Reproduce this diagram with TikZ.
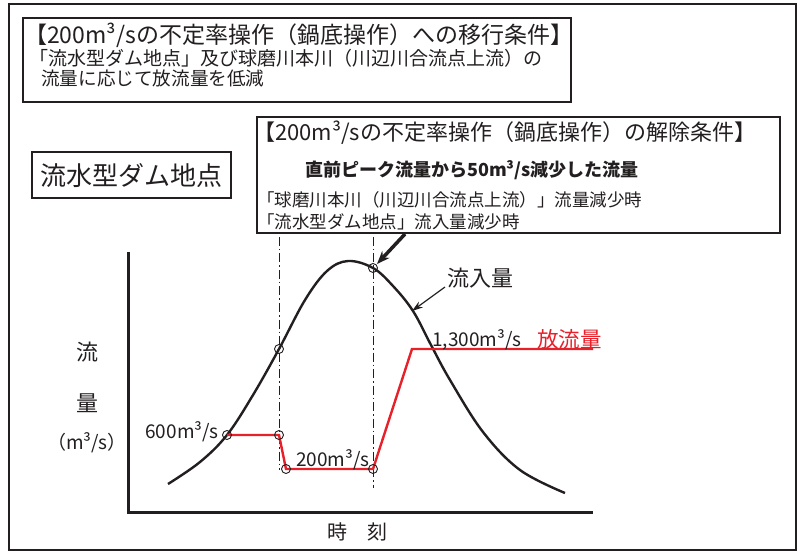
\documentclass[tikz,border=0pt]{standalone}
\usepackage{fontspec}
\setmainfont{Noto Sans CJK JP}
\usetikzlibrary{arrows.meta}
\definecolor{ink}{RGB}{35,31,32}
\definecolor{rd}{RGB}{232,32,42}
\newcommand{\fsz}[1]{\fontsize{#1}{#1}\selectfont}
\tikzset{
  frame/.style={draw=ink, line width=2.5pt},
  box/.style={draw=ink, line width=2pt},
  txt/.style={inner sep=0pt, text=ink, anchor=west},
  ctxt/.style={inner sep=0pt, text=ink, anchor=center},
  axis/.style={draw=ink, line width=3pt},
  flow/.style={draw=ink, line width=2.4pt},
  rel/.style={draw=rd, line width=2.4pt, line join=miter},
  guide/.style={draw=ink, line width=1pt, dash pattern=on 9pt off 3pt on 1.5pt off 3pt},
  mk/.style={circle, draw=ink, line width=0.9pt, minimum size=9pt, inner sep=0pt},
}
\begin{document}
\begin{tikzpicture}[x=1pt,y=-1pt]
\useasboundingbox (0,0) rectangle (803,553);
\fill[white] (0,0) rectangle (803,553);
\draw[frame] (9,4) rectangle (796,550);

% top box
\draw[box] (23,18) rectangle (571,102);
\node[txt, font=\fsz{23}] (t1) at (24,35) {【200m³/sの不定率操作（鍋底操作）への移行条件】};
\node[txt, font=\fsz{19}] (t1a) at (29,58) {「流水型ダム地点」及び球磨川本川（川辺川合流点上流）の};
\node[txt, font=\fsz{18.6}] (t1b) at (41,78) {流量に応じて放流量を低減};

% location box
\draw[box] (32,152) rectangle (231,198);
\node[ctxt, font=\fsz{26}] (loc) at (131.5,176) {流水型ダム地点};

% release box
\draw[box] (257,117) rectangle (780,233);
\node[txt, font=\fsz{22}] (t2) at (253,133) {【200m³/sの不定率操作（鍋底操作）の解除条件】};
\node[txt, font=\fsz{18}\bfseries] (t2a) at (305,170) {直前ピーク流量から50m³/s減少した流量};
\node[txt, font=\fsz{17.5}] (t2b) at (257,200) {「球磨川本川（川辺川合流点上流）」流量減少時};
\node[txt, font=\fsz{17.5}] (t2c) at (257,222) {「流水型ダム地点」流入量減少時};

% axes
\coordinate (ytop) at (128,252);
\coordinate (orig) at (128,512);
\coordinate (xend) at (593,512);
\draw[axis] (ytop) -- (orig) -- (xend);
\node[ctxt, font=\fsz{22}] (yl1) at (87,352) {流};
\node[ctxt, font=\fsz{22}] (yl2) at (87,403) {量};
\node[ctxt, font=\fsz{19}] (yl3) at (87,443) {（m³/s）};
\node[ctxt, font=\fsz{20}] (xl) at (357,532) {時　刻};

% guides
\coordinate (g1t) at (279,237);
\coordinate (g1b) at (279,470);
\coordinate (g2t) at (373,237);
\coordinate (g2b) at (373,488);
\draw[guide] (g1t) -- (g1b);
\draw[guide] (g2t) -- (g2b);

% inflow curve
\draw[flow] plot[smooth, tension=0.6] coordinates {(168,484) (200,462) (227,435) (253,395) (279,349) (305,300) (327,271) (348,261) (373,268) (393,286) (413,311) (431,345) (450,380) (483,432) (520,470) (565,493)};

% release
\coordinate (p1) at (227,435);
\coordinate (p2) at (279,435);
\coordinate (p3) at (286,469);
\coordinate (p4) at (373,469);
\coordinate (p5) at (412,349);
\coordinate (p6) at (593,349);
\coordinate (q1) at (279,349);
\coordinate (q2) at (373,268);
\draw[rel] (p1) -- (p2) -- (p3) -- (p4) -- (p5) -- (p6);
\foreach \c in {p1,p2,p3,p4,q1,q2} \node[mk] (m\c) at (\c) {};

% labels
\node[inner sep=0pt, text=ink, anchor=east, font=\fsz{19}] (l600) at (219,432) {600m³/s};
\node[txt, font=\fsz{19}] (l200) at (296,460) {200m³/s};
\node[txt, font=\fsz{19}] (l1300) at (432,340) {1,300m³/s};
\node[inner sep=0pt, text=rd, anchor=west, font=\fsz{21.5}] (lout) at (537,339) {放流量};
\node[txt, font=\fsz{22}] (lin) at (447,278) {流入量};

% arrows
\coordinate (a1s) at (405,234);
\coordinate (a1e) at (377,264);
\draw[draw=ink, line width=3.5pt, -{Stealth[length=13pt, width=10pt]}] (a1s) -- (a1e);
\coordinate (a2s) at (445,287);
\coordinate (a2e) at (412,311);
\draw[draw=ink, line width=1.2pt, -{Stealth[length=11pt, width=7pt]}] (a2s) -- (a2e);
\end{tikzpicture}
\end{document}
